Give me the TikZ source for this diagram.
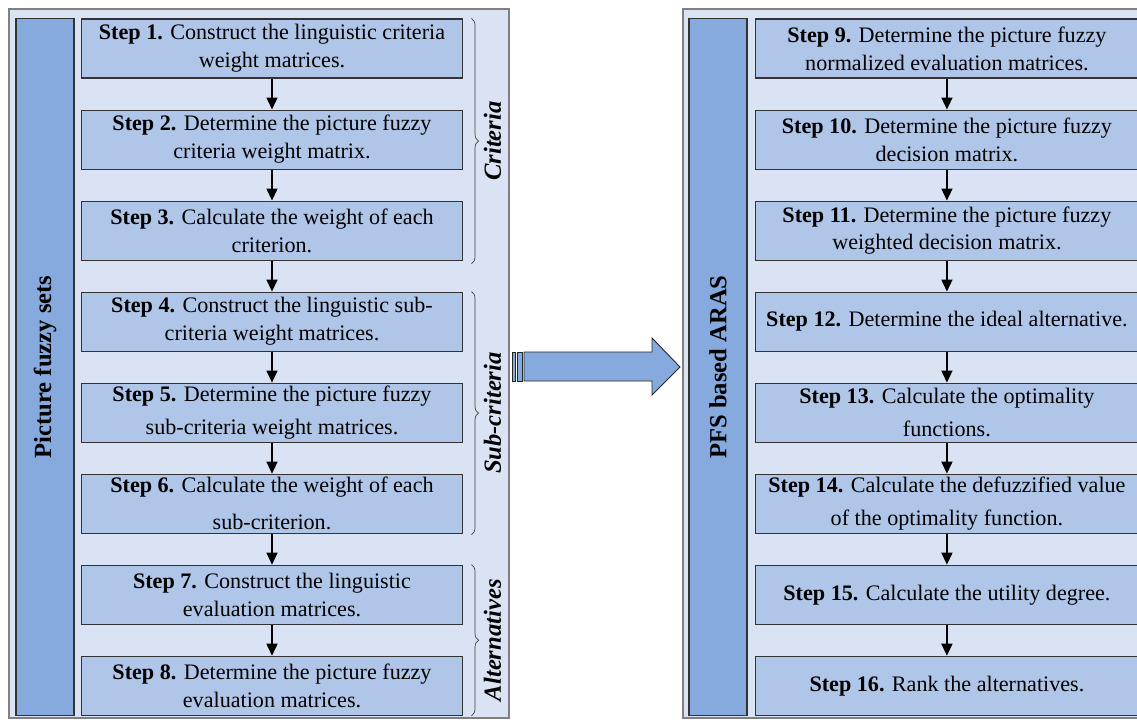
\documentclass[tikz,border=0pt]{standalone}
\usepackage{fontspec}
\setmainfont{Liberation Serif}
\usepackage{xcolor}
\usetikzlibrary{shapes,arrows.meta,positioning,decorations.pathreplacing}

\definecolor{panelblue}{HTML}{DAE3F3}
\definecolor{boxblue}{HTML}{B0C6E8}
\definecolor{barblue}{HTML}{86AADD}

\begin{document}
\begin{tikzpicture}[x=0.02cm, y=-0.02cm, node distance=0.62cm,
    panel/.style={draw=black!50, line width=0.7pt, fill=panelblue, inner sep=0pt},
    sidebar/.style={draw=black!80, line width=0.6pt, fill=barblue, rotate=90,
        minimum width=13.96cm, minimum height=1.16cm, inner sep=0pt,
        font=\fontsize{14}{16}\selectfont\bfseries},
    stepbox/.style={draw=black!80, line width=0.6pt, fill=boxblue,
        minimum width=7.64cm, minimum height=1.18cm, inner sep=0pt, align=center,
        font=\fontsize{12.6}{15.9}\selectfont},
    grpbrace/.style={decorate, decoration={brace, amplitude=4pt}, draw=black!75, line width=0.4pt},
    grplabel/.style={rotate=90, anchor=north, inner sep=0pt, yshift=-0.24cm,
        font=\fontsize{14}{16}\selectfont\bfseries\itshape},
    bigarrow/.style={draw=black!85, line width=0.5pt, fill=barblue},
    flow/.style={-{Triangle[length=0.24cm, width=0.22cm]}, line width=0.85pt}]
\useasboundingbox (0,0) rectangle (1137,720);
\clip (0,0) rectangle (1137,720);
% the two panels
\node[panel, minimum width=10cm, minimum height=14.18cm] (leftpanel) at (259,363.5) {};
\node[panel, minimum width=9.24cm, minimum height=14.18cm] (rightpanel) at (914,363.5) {};
\node[sidebar] (pfs) at (45,367) {Picture fuzzy sets};
\node[sidebar] (aras) at (718,367) {PFS based ARAS};
% left column
\node[stepbox] (s1) at (272,48.5) {\textbf{Step 1.} Construct the linguistic criteria\\weight matrices.};
\node[stepbox, below=of s1] (s2) {\textbf{Step 2.} Determine the picture fuzzy\\criteria weight matrix.};
\node[stepbox, below=of s2] (s3) {\textbf{Step 3.} Calculate the weight of each\\criterion.};
\node[stepbox, below=of s3] (s4) {\textbf{Step 4.} Construct the linguistic sub-\\criteria weight matrices.};
\node[stepbox, below=of s4] (s5) {\textbf{Step 5.} Determine the picture fuzzy\\[3pt]sub-criteria weight matrices.};
\node[stepbox, below=of s5] (s6) {\textbf{Step 6.} Calculate the weight of each\\[5pt]sub-criterion.};
\node[stepbox, below=of s6] (s7) {\textbf{Step 7.} Construct the linguistic\\evaluation matrices.};
\node[stepbox, below=of s7] (s8) {\textbf{Step 8.} Determine the picture fuzzy\\evaluation matrices.};
% right column
\node[stepbox, right=5.84cm of s1] (s9) {\textbf{Step 9.} Determine the picture fuzzy\\normalized evaluation matrices.};
\node[stepbox, below=of s9] (s10) {\textbf{Step 10.} Determine the picture fuzzy\\decision matrix.};
\node[stepbox, below=of s10] (s11) {\textbf{Step 11.} Determine the picture fuzzy\\weighted decision matrix.};
\node[stepbox, below=of s11] (s12) {\textbf{Step 12.} Determine the ideal alternative.};
\node[stepbox, below=of s12] (s13) {\textbf{Step 13.} Calculate the optimality\\[3pt]functions.};
\node[stepbox, below=of s13] (s14) {\textbf{Step 14.} Calculate the defuzzified value\\[3pt]of the optimality function.};
\node[stepbox, below=of s14] (s15) {\textbf{Step 15.} Calculate the utility degree.};
\node[stepbox, below=of s15] (s16) {\textbf{Step 16.} Rank the alternatives.};
% flow arrows
\draw[flow] (s1) -- (s2);
\draw[flow] (s2) -- (s3);
\draw[flow] (s3) -- (s4);
\draw[flow] (s4) -- (s5);
\draw[flow] (s5) -- (s6);
\draw[flow] (s6) -- (s7);
\draw[flow] (s7) -- (s8);
\draw[flow] (s9) -- (s10);
\draw[flow] (s10) -- (s11);
\draw[flow] (s11) -- (s12);
\draw[flow] (s12) -- (s13);
\draw[flow] (s13) -- (s14);
\draw[flow] (s14) -- (s15);
\draw[flow] (s15) -- (s16);
% braces with group names
\draw[grpbrace] ([xshift=0.16cm]s1.north east) -- ([xshift=0.16cm,yshift=-0.06cm]s3.south east)
    node[grplabel, midway] (crit) {Criteria};
\draw[grpbrace] ([xshift=0.16cm]s4.north east) -- ([xshift=0.16cm,yshift=-0.02cm]s6.south east)
    node[grplabel, midway] (subcrit) {Sub-criteria};
\draw[grpbrace] ([xshift=0.16cm]s7.north east) -- ([xshift=0.16cm]s8.south east)
    node[grplabel, midway] (alts) {Alternatives};
% big arrow between the panels
\draw[bigarrow] (512,352) rectangle (515,381);
\draw[bigarrow] (517,352) rectangle (522,381);
\draw[bigarrow] (524,352) -- (652,352) -- (652,338) -- (680,367) -- (652,395) -- (652,381) -- (524,381) -- cycle;
\end{tikzpicture}
\end{document}
